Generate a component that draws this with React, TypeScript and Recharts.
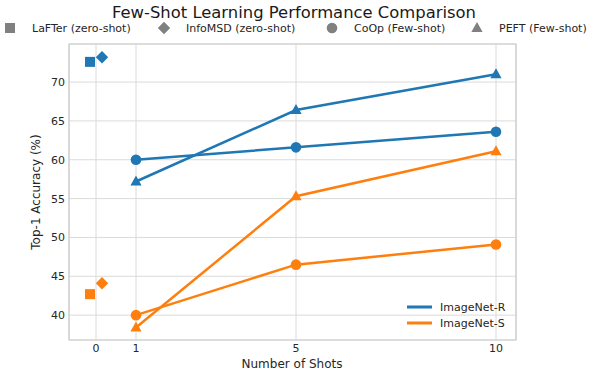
import React from "react";
import { ComposedChart, Line, Scatter, XAxis, YAxis, CartesianGrid, ReferenceArea } from "recharts";

// few-shot results
const shots = [1, 5, 10];
const coopR = [60.0, 61.6, 63.6];
const peftR = [57.2, 66.4, 71.0];
const coopS = [40.0, 46.5, 49.1];
const peftS = [38.4, 55.3, 61.1];

// zero-shot baselines (drawn slightly either side of 0)
const zeroShotX = [-0.15, 0.15];
const zeroShotR = [72.6, 73.2];
const zeroShotS = [42.7, 44.1];

const xTicks = [0, 1, 5, 10];
const yTicks = [40, 45, 50, 55, 60, 65, 70];

const methodNames = ["LaFTer (zero-shot)", "InfoMSD (zero-shot)", "CoOp (Few-shot)", "PEFT (Few-shot)"];
const methodMarkers = ["square", "diamond", "circle", "triangle"];
const datasetNames = ["ImageNet-R", "ImageNet-S"];
const datasetColors = ["#1f77b4", "#ff7f0e"];

const FONT = "'DejaVu Sans', sans-serif";
const TEXT = "#262626";

const toPoints = (xs: number[], ys: number[]) => xs.map((x, i) => ({ x, y: ys[i] }));

const Marker = ({ kind, cx, cy, color }: any) => {
  if (cx == null || cy == null) return null;
  if (kind === "square") return <rect x={cx - 5} y={cy - 5} width={10} height={10} fill={color} />;
  if (kind === "diamond")
    return <polygon points={`${cx},${cy - 6.2} ${cx + 6.2},${cy} ${cx},${cy + 6.2} ${cx - 6.2},${cy}`} fill={color} />;
  if (kind === "triangle")
    return <polygon points={`${cx},${cy - 6} ${cx + 5.6},${cy + 4} ${cx - 5.6},${cy + 4}`} fill={color} />;
  return <circle cx={cx} cy={cy} r={5.3} fill={color} />;
};

const series = [
  { name: "coop-r", data: toPoints(shots, coopR), color: datasetColors[0], marker: "circle" },
  { name: "peft-r", data: toPoints(shots, peftR), color: datasetColors[0], marker: "triangle" },
  { name: "coop-s", data: toPoints(shots, coopS), color: datasetColors[1], marker: "circle" },
  { name: "peft-s", data: toPoints(shots, peftS), color: datasetColors[1], marker: "triangle" },
];

const zeroShot = [
  { name: "lafter-r", data: [{ x: zeroShotX[0], y: zeroShotR[0] }], color: datasetColors[0], marker: "square" },
  { name: "info-r", data: [{ x: zeroShotX[1], y: zeroShotR[1] }], color: datasetColors[0], marker: "diamond" },
  { name: "lafter-s", data: [{ x: zeroShotX[0], y: zeroShotS[0] }], color: datasetColors[1], marker: "square" },
  { name: "info-s", data: [{ x: zeroShotX[1], y: zeroShotS[1] }], color: datasetColors[1], marker: "diamond" },
];

const legendX = [10, 164, 332, 477];

export default function App() {
  return (
    <div style={{ position: "absolute", left: 0, top: 0, width: 590, height: 374, background: "#fff" }}>
      <ComposedChart width={590} height={374} margin={{ top: 44, right: 74, bottom: 0, left: 9 }}>
        <CartesianGrid stroke="#dadada" strokeWidth={1} />
        <ReferenceArea x1={-0.675} x2={10.5} y1={36.8} y2={74.9} fill="none" stroke="#cccccc" strokeWidth={1.2} />
        <XAxis
          type="number"
          dataKey="x"
          domain={[-0.675, 10.5]}
          ticks={xTicks}
          allowDataOverflow
          axisLine={false}
          tickLine={false}
          tickSize={0}
          tickMargin={4}
          height={34}
          tick={{ fontSize: 11, fill: TEXT, fontFamily: FONT }}
        />
        <YAxis
          type="number"
          dataKey="y"
          domain={[36.8, 74.9]}
          ticks={yTicks}
          allowDataOverflow
          axisLine={false}
          tickLine={false}
          tickSize={0}
          tickMargin={4}
          width={60}
          tick={{ fontSize: 11, fill: TEXT, fontFamily: FONT }}
        />
        {series.map((s) => (
          <Line
            key={s.name}
            data={s.data}
            dataKey="y"
            type="linear"
            stroke={s.color}
            strokeWidth={2.5}
            isAnimationActive={false}
            dot={(p: any) => <Marker key={p.index} kind={s.marker} cx={p.cx} cy={p.cy} color={s.color} />}
            activeDot={false}
          />
        ))}
        {zeroShot.map((s) => (
          <Scatter
            key={s.name}
            data={s.data}
            dataKey="y"
            isAnimationActive={false}
            shape={(p: any) => <Marker kind={s.marker} cx={p.cx} cy={p.cy} color={s.color} />}
          />
        ))}
      </ComposedChart>
      <svg width={590} height={374} style={{ position: "absolute", left: 0, top: 0, pointerEvents: "none" }}>
        <text x={294} y={18} textAnchor="middle" fontSize={16.4} fontFamily={FONT} fill="#1a1a1a">
          Few-Shot Learning Performance Comparison
        </text>
        {methodNames.map((m, i) => (
          <g key={m}>
            <Marker kind={methodMarkers[i]} cx={legendX[i]} cy={28} color="#808080" />
            <text x={legendX[i] + 22} y={32} fontSize={11} fontFamily={FONT} fill={TEXT}>
              {m}
            </text>
          </g>
        ))}
        <text
          transform="translate(40,192) rotate(-90)"
          textAnchor="middle"
          fontSize={12}
          fontFamily={FONT}
          fill={TEXT}
        >
          Top-1 Accuracy (%)
        </text>
        <text x={292} y={368} textAnchor="middle" fontSize={12} fontFamily={FONT} fill={TEXT}>
          Number of Shots
        </text>
        {datasetNames.map((d, i) => (
          <g key={d}>
            <line x1={407} x2={432} y1={307 + i * 16} y2={307 + i * 16} stroke={datasetColors[i]} strokeWidth={3} />
            <text x={440} y={311 + i * 16} fontSize={11} fontFamily={FONT} fill={TEXT}>
              {d}
            </text>
          </g>
        ))}
      </svg>
    </div>
  );
}
